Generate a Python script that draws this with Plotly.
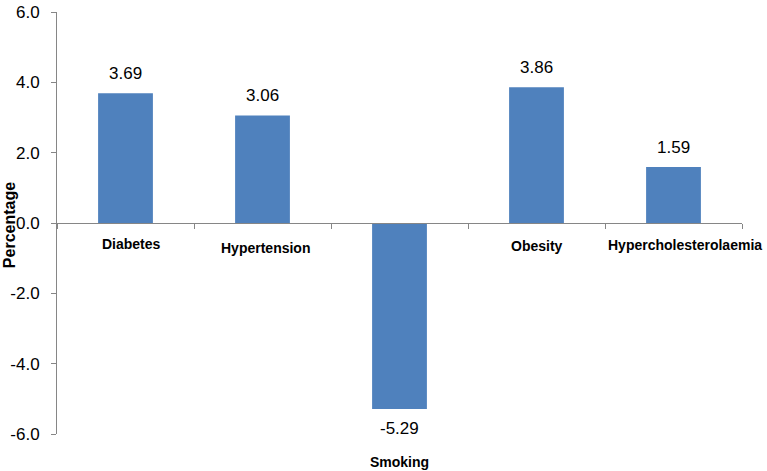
import plotly.graph_objects as go

categories = ["Diabetes", "Hypertension", "Smoking", "Obesity", "Hypercholesterolaemia"]
values = [3.69, 3.06, -5.29, 3.86, 1.59]
value_labels = ["3.69", "3.06", "-5.29", "3.86", "1.59"]
y_tick_values = [-6, -4, -2, 0, 2, 4, 6]
y_tick_labels = ["-6.0", "-4.0", "-2.0", "0.0", "2.0", "4.0", "6.0"]

FONT = "Liberation Sans"
# small horizontal nudges of category labels (styling)
label_xshift = {"Diabetes": 6, "Hypertension": 3, "Smoking": 0, "Obesity": 0, "Hypercholesterolaemia": 11}
label_yshift = {"Diabetes": -21, "Hypertension": -25, "Smoking": -28, "Obesity": -23, "Hypercholesterolaemia": -22}

fig = go.Figure()
fig.add_trace(go.Bar(x=categories, y=values, marker=dict(color="#4F81BD", line=dict(width=0)),
                     width=0.4, hoverinfo="x+y"))

annotations = []
for c, v, t in zip(categories, values, value_labels):
    if v >= 0:
        annotations.append(dict(x=c, y=v, xref="x", yref="y", text=t, showarrow=False,
                                yanchor="bottom", yshift=8, font=dict(family=FONT, size=17, color="#000")))
        annotations.append(dict(x=c, y=0, xref="x", yref="y", text="<b>%s</b>" % c, showarrow=False,
                                yanchor="middle", yshift=label_yshift[c], xshift=label_xshift[c],
                                font=dict(family=FONT, size=14, color="#000")))
    else:
        annotations.append(dict(x=c, y=v, xref="x", yref="y", text=t, showarrow=False,
                                yanchor="top", yshift=-8, font=dict(family=FONT, size=17, color="#000")))
        annotations.append(dict(x=c, y=-6, xref="x", yref="y", text="<b>%s</b>" % c, showarrow=False,
                                yanchor="middle", yshift=label_yshift[c], xshift=label_xshift[c],
                                font=dict(family=FONT, size=14, color="#000")))

annotations.append(dict(text="<b>Percentage</b>", xref="paper", yref="paper", x=-0.07, y=0.495,
                        xanchor="center", yanchor="middle", textangle=-90, showarrow=False,
                        font=dict(family=FONT, size=16, color="#000")))

fig.update_layout(
    width=767, height=471,
    margin=dict(l=57, r=25, t=12, b=37, autoexpand=False),
    plot_bgcolor="white", paper_bgcolor="white",
    showlegend=False,
    annotations=annotations,
    font=dict(family=FONT, color="#000"),
    xaxis=dict(range=[-0.5, 4.5], showticklabels=False, showline=True, linecolor="#868686",
               linewidth=1, ticks="outside", ticklen=5, tickcolor="#868686", tickson="boundaries",
               showgrid=False, anchor="free", position=0.5, zeroline=False, automargin=False),
    yaxis=dict(range=[-6, 6], tickvals=y_tick_values, ticktext=y_tick_labels, showline=True,
               linecolor="#868686", linewidth=1, ticks="outside", ticklen=5, tickcolor="#868686",
               showgrid=False, zeroline=False, automargin=False, ticklabelstandoff=8,
               tickfont=dict(family=FONT, size=17, color="#000")),
)
fig.write_html("out.html", config={"displayModeBar": False},
               post_script="document.body.style.margin='0';document.body.style.overflow='hidden';")
